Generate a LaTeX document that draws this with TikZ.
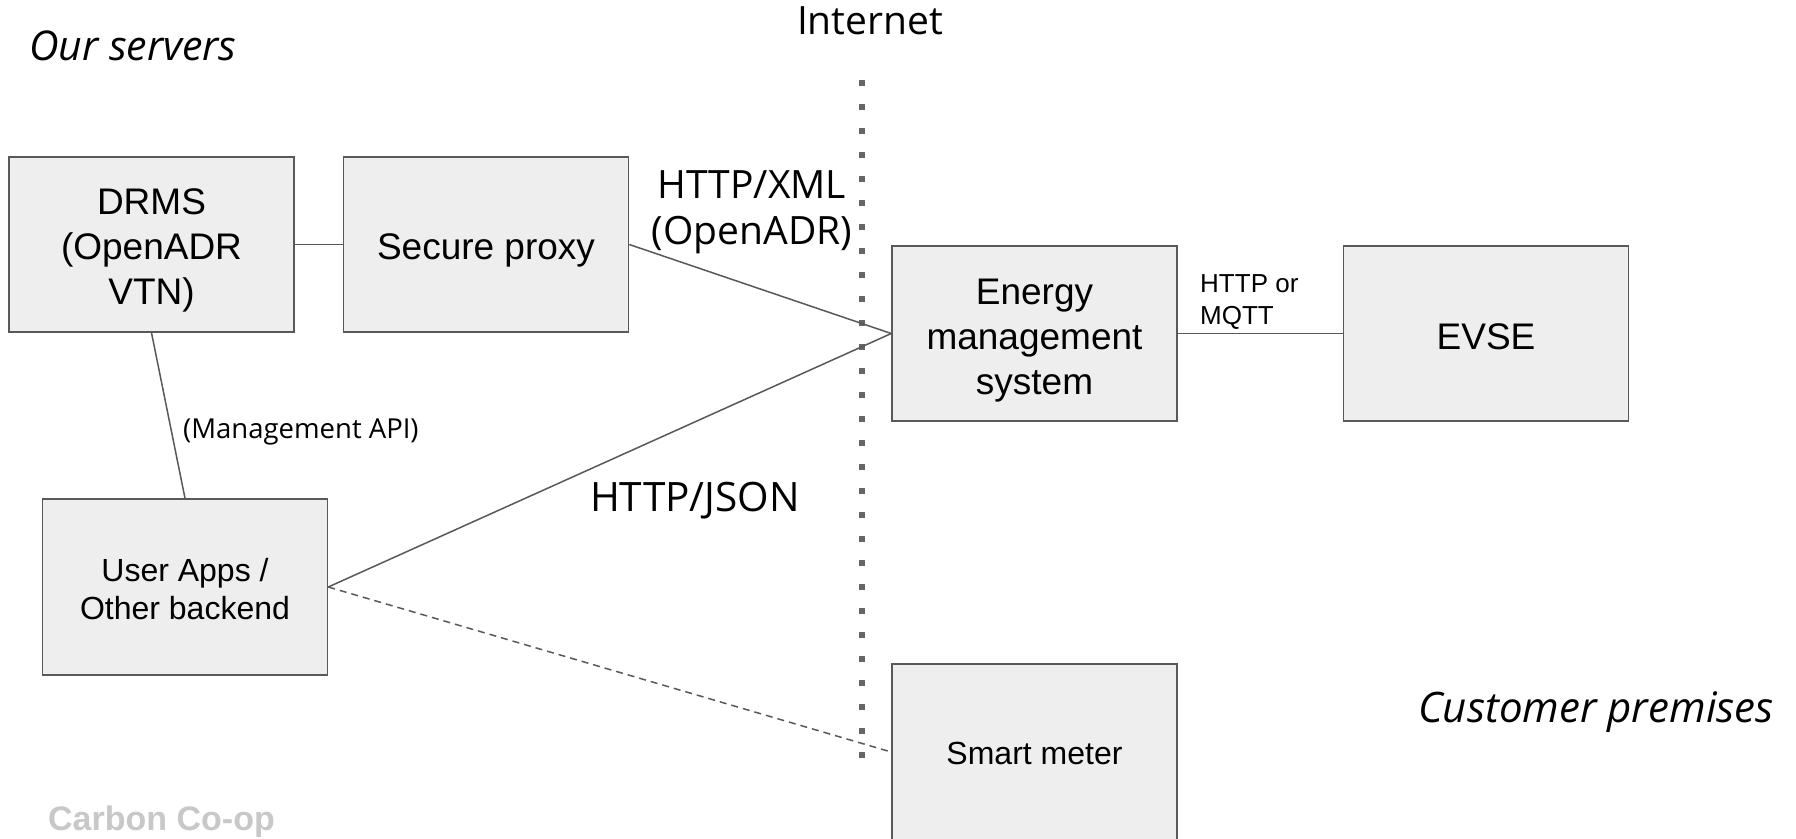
\documentclass[tikz,border=0pt]{standalone}
\usepackage{fontspec}
\setmainfont{Liberation Sans}
\newfontfamily\labelfont{Open Sans}
\definecolor{linegray}{HTML}{595959}
\definecolor{boxfill}{HTML}{EEEEEE}
\definecolor{dotgray}{HTML}{666666}
\definecolor{logogray}{HTML}{C8C8C8}
\tikzset{
  box/.style={draw=linegray, fill=boxfill, line width=1.5pt, minimum width=285pt, minimum height=175pt, inner sep=0pt},
  boxtext/.style={inner sep=0pt, align=center, font=\fontsize{37}{45}\selectfont},
  smallboxtext/.style={inner sep=0pt, align=center, font=\fontsize{32}{38}\selectfont},
  conn/.style={draw=linegray, line width=1.5pt},
  dotline/.style={draw=dotgray, line width=6pt, dash pattern=on 6pt off 18pt},
  biglabel/.style={inner sep=0pt, align=center, font=\labelfont\fontsize{39}{46}\selectfont},
  italiclabel/.style={inner sep=0pt, font=\labelfont\itshape\fontsize{41}{46}\selectfont},
}
\begin{document}
\begin{tikzpicture}[x=1pt,y=-1pt]
\useasboundingbox (0,0) rectangle (1796,838);
\clip (0,0) rectangle (1796,838);
\fill[white] (0,0) rectangle (1796,838);

% internet boundary
\coordinate (dtop) at (862,80);
\coordinate (dbot) at (862,760);
\draw[dotline] (dtop) -- (dbot);

% boxes
\node[box, label={[boxtext, yshift=-6pt]center:{DRMS\\(OpenADR\\VTN)}}] (drms) at (151.5,244.5) {};
\node[box, label={[boxtext, yshift=-6pt]center:{Secure proxy}}] (proxy) at (486,244.5) {};
\node[box, label={[boxtext, yshift=-7pt]center:{Energy\\management\\system}}] (ems) at (1034.5,333.5) {};
\node[box, label={[boxtext, yshift=-3pt]center:{EVSE}}] (evse) at (1486,333.5) {};
\node[box, minimum height=176pt, label={[smallboxtext, yshift=-2pt]center:{User Apps /\\Other backend}}] (apps) at (185,587) {};
\node[box, minimum height=176pt, label={[smallboxtext, yshift=-1pt]center:{Smart meter}}] (meter) at (1034.5,752) {};

% connectors
\draw[conn] (drms.east) -- (proxy.west);
\draw[conn] (proxy.east) -- (ems.west);
\draw[conn] (apps.east) -- (ems.west);
\draw[conn] (drms.south) -- (apps.north);
\draw[conn, dash pattern=on 7pt off 5pt] (apps.east) -- (meter.west);
\draw[conn] (ems.east) -- (evse.west);

% labels
\node[italiclabel, anchor=west] (ours) at (29,46) {Our servers};
\node[biglabel] (inet) at (870,21) {Internet};
\node[biglabel] (xml) at (752,212) {HTTP/XML\\(OpenADR)};
\node[inner sep=0pt, anchor=west, align=left, font=\fontsize{26}{32}\selectfont] (mqtt) at (1200,302) {HTTP or\\MQTT};
\node[inner sep=0pt, anchor=west, font=\labelfont\fontsize{27.5}{30}\selectfont] (mgmt) at (183,432) {(Management API)};
\node[biglabel, font=\labelfont\fontsize{40.5}{46}\selectfont] (json) at (695,501) {HTTP/JSON};
\node[italiclabel, anchor=west, font=\labelfont\itshape\fontsize{42}{46}\selectfont] (cust) at (1418,712) {Customer premises};
\node[inner sep=0pt, anchor=west, text=logogray, font=\bfseries\fontsize{34}{38}\selectfont] (logo) at (48,822) {Carbon Co-op};
\end{tikzpicture}
\end{document}
